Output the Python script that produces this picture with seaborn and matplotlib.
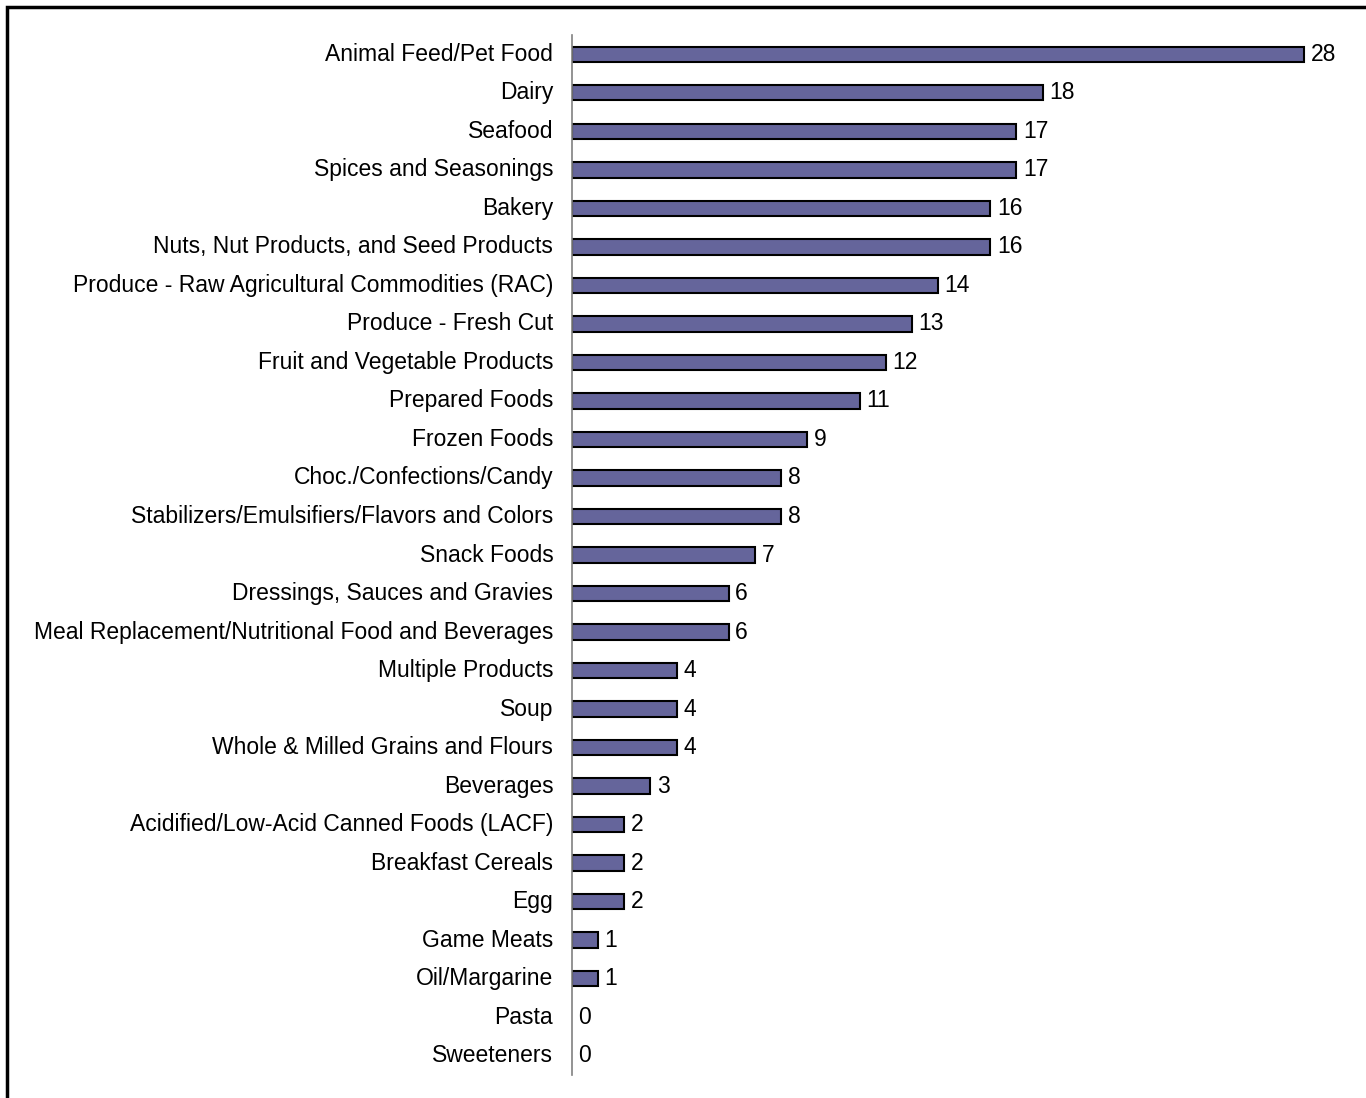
import matplotlib
matplotlib.use("Agg")
import matplotlib.pyplot as plt
import seaborn as sns
import pandas as pd
from matplotlib.patches import Rectangle

# Categories and counts, top to bottom
categories = [
    "Animal Feed/Pet Food", "Dairy", "Seafood", "Spices and Seasonings", "Bakery",
    "Nuts, Nut Products, and Seed Products",
    "Produce - Raw Agricultural Commodities (RAC)", "Produce - Fresh Cut",
    "Fruit and Vegetable Products", "Prepared Foods", "Frozen Foods",
    "Choc./Confections/Candy", "Stabilizers/Emulsifiers/Flavors and Colors",
    "Snack Foods", "Dressings, Sauces and Gravies",
    "Meal Replacement/Nutritional Food and Beverages", "Multiple Products", "Soup",
    "Whole & Milled Grains and Flours", "Beverages",
    "Acidified/Low-Acid Canned Foods (LACF)", "Breakfast Cereals", "Egg",
    "Game Meats", "Oil/Margarine", "Pasta", "Sweeteners",
]
counts = [28, 18, 17, 17, 16, 16, 14, 13, 12, 11, 9, 8, 8, 7, 6, 6, 4, 4, 4, 3,
          2, 2, 2, 1, 1, 0, 0]

df = pd.DataFrame({"category": categories, "count": counts})

sns.set_style("white")
plt.rcParams["font.family"] = ["Liberation Sans", "DejaVu Sans"]

W, H = 1366, 1098
fig = plt.figure(figsize=(W / 100, H / 100), dpi=100)
ax = fig.add_axes([572 / W, 1 - 1075 / H, (1340 - 572) / W, (1075 - 35) / H])

sns.barplot(data=df, x="count", y="category", orient="h", color="#65659b",
            saturation=1, width=0.4, edgecolor="black", linewidth=1.5, ax=ax)

ax.set_xlim(0, (1340 - 572) / 26.14)
ax.set_ylim(len(categories) - 0.5, -0.5)
ax.set_xlabel("")
ax.set_ylabel("")
ax.set_xticks([])
for s in ["top", "right", "bottom"]:
    ax.spines[s].set_visible(False)
ax.spines["left"].set_color("#808080")
ax.spines["left"].set_linewidth(1.2)
ax.tick_params(axis="y", length=0, pad=13.5, labelsize=16.5, labelcolor="black")
for lbl in ax.get_yticklabels():
    lbl.set_verticalalignment("center")

for bar, v in zip(ax.patches, counts):
    if v == 0:
        bar.set_linewidth(0)
    ax.text(bar.get_width() + 0.25, bar.get_y() + bar.get_height() / 2, str(v),
            va="center", ha="left", fontsize=16.5, color="black")

# outer frame
fig.patches.append(Rectangle((7 / W, -0.1), 1.2, 1 - 7 / H + 0.1,
                             transform=fig.transFigure, fill=False,
                             edgecolor="black", linewidth=2.5))

fig.savefig("out.png", dpi=100)
